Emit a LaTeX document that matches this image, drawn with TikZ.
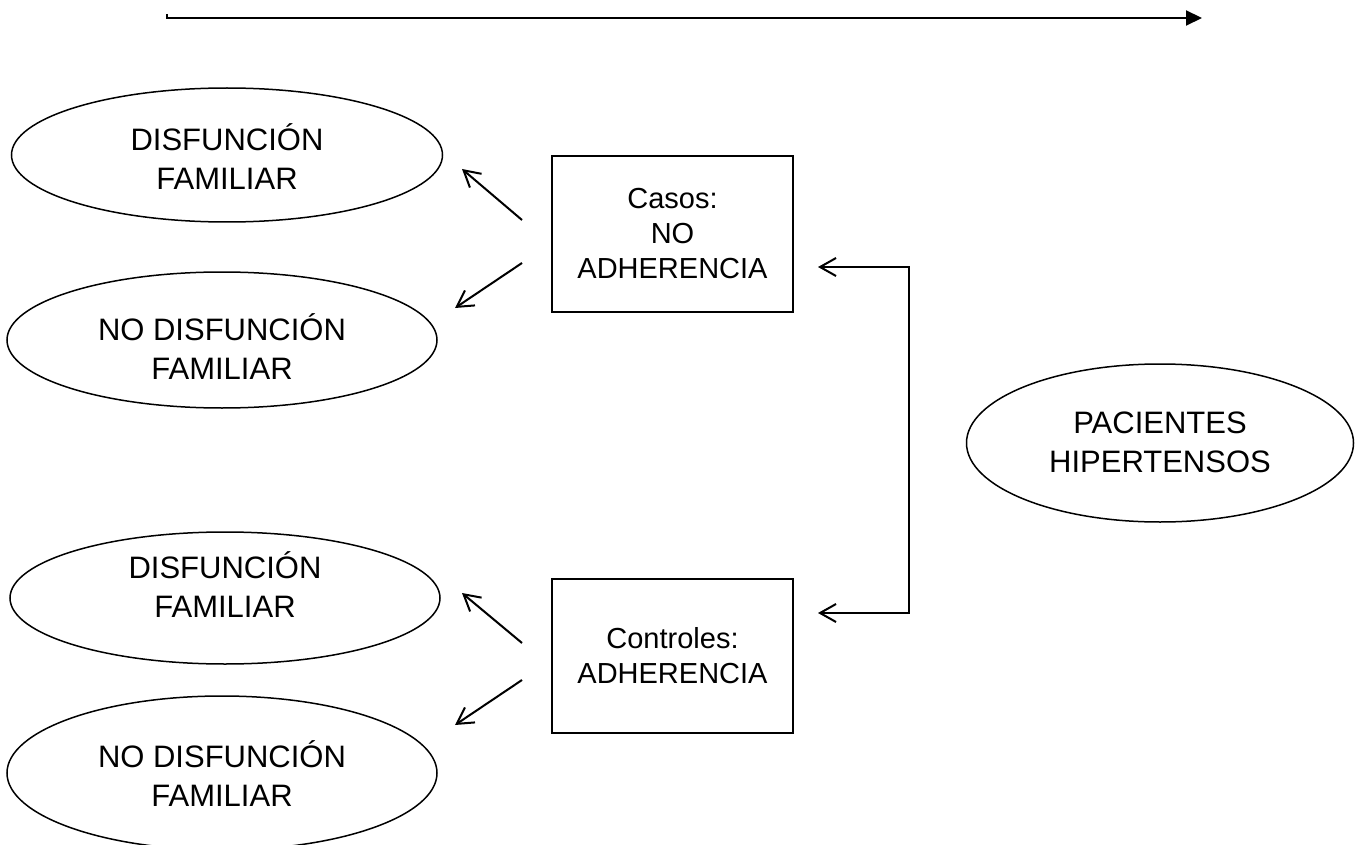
\documentclass[tikz,border=0pt]{standalone}
\usepackage{fontspec}
\setmainfont{Liberation Sans}
\usetikzlibrary{arrows.meta,shapes.geometric}
\begin{document}
\begin{tikzpicture}[x=1pt,y=-1pt,
  ell/.style={draw, ellipse, line width=1.5pt, inner sep=0pt},
  elltext/.style={inner sep=0pt, align=center, font=\fontsize{31}{39}\selectfont},
  boxnode/.style={draw, rectangle, line width=1.5pt, inner sep=0pt, align=center,
              font=\fontsize{29}{35}\selectfont},
  barb/.style={line width=2pt, -{Straight Barb[length=16pt,width=18pt,line width=2pt]}},
  bothbarb/.style={line width=2pt, {Straight Barb[length=16pt,width=18pt,line width=2pt]}-{Straight Barb[length=16pt,width=18pt,line width=2pt]}}
]
\useasboundingbox (0,0) rectangle (1357,845);
\clip (0,0) rectangle (1357,845);

% top timeline arrow
\coordinate (t0) at (167,14);
\coordinate (t1) at (167,18);
\coordinate (t2) at (1202,18);
\draw[line width=2pt, -{Triangle[length=16pt,width=15pt]}] (t0) -- (t1) -- (t2);

% ellipses
\node[ell, minimum width=431pt, minimum height=134pt] (d1) at (227,155) {};
\node[ell, minimum width=430pt, minimum height=136pt] (n1) at (222,340) {};
\node[ell, minimum width=430pt, minimum height=132pt] (d2) at (225,598) {};
\node[ell, minimum width=430pt, minimum height=154pt] (n2) at (222,773) {};
\node[ell, minimum width=387pt, minimum height=158pt] (pac) at (1160,443) {};

\node[elltext] (d1t) at ([yshift=-2pt]d1.center) {DISFUNCIÓN\\FAMILIAR};
\node[elltext] (n1t) at ([yshift=-7pt]n1.center) {NO DISFUNCIÓN\\FAMILIAR};
\node[elltext] (d2t) at ([yshift=13pt]d2.center) {DISFUNCIÓN\\FAMILIAR};
\node[elltext] (n2t) at ([yshift=-1pt]n2.center) {NO DISFUNCIÓN\\FAMILIAR};
\node[elltext] (pact) at ([yshift=1pt]pac.center) {PACIENTES\\HIPERTENSOS};

% boxes
\node[boxnode, minimum width=241pt, minimum height=156pt] (casos) at (672.5,234) {Casos:\\NO\\ADHERENCIA};
\node[boxnode, minimum width=241pt, minimum height=154pt] (ctrl) at (672.5,656) {Controles:\\ADHERENCIA};

% bracket connector
\coordinate (ta) at (818,267);
\coordinate (ja) at (909,267);
\coordinate (jb) at (909,613);
\coordinate (tb) at (818,613);
\draw[bothbarb] (ta) -- (ja) -- (jb) -- (tb);

% diagonal arrows from Casos
\coordinate (c1s) at (522,220);
\coordinate (c1e) at (462,169);
\coordinate (c2s) at (522,263);
\coordinate (c2e) at (455,308);
\draw[barb] (c1s) -- (c1e);
\draw[barb] (c2s) -- (c2e);

% diagonal arrows from Controles
\coordinate (k1s) at (522,643);
\coordinate (k1e) at (462,593);
\coordinate (k2s) at (522,680);
\coordinate (k2e) at (455,725);
\draw[barb] (k1s) -- (k1e);
\draw[barb] (k2s) -- (k2e);
\end{tikzpicture}
\end{document}
